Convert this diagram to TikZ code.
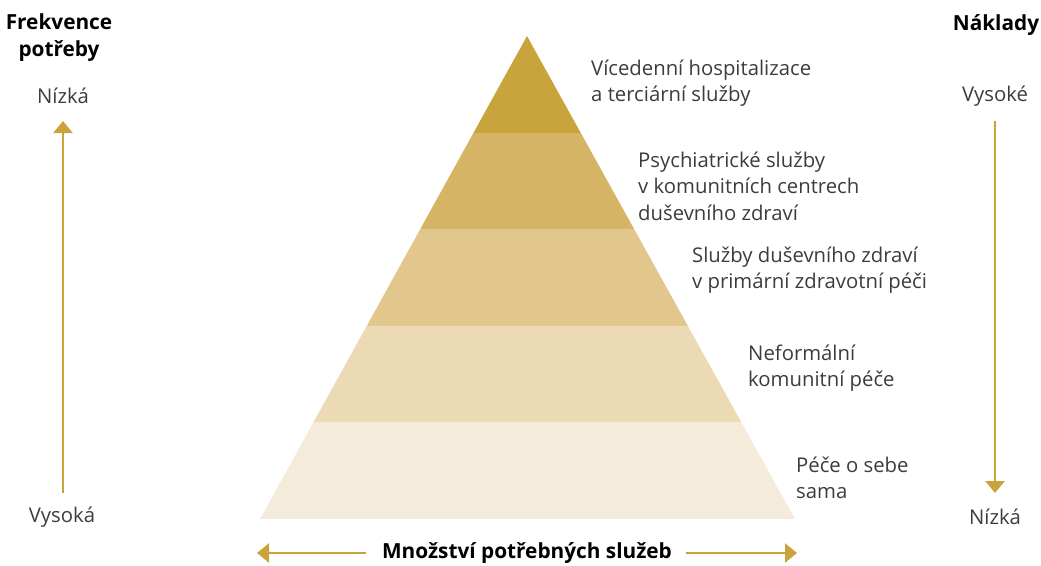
\documentclass[tikz,border=0pt]{standalone}
\usepackage{fontspec}
\setmainfont{Open Sans}
\usetikzlibrary{arrows.meta}
\definecolor{gold}{HTML}{C9A43C}
\definecolor{lay1}{HTML}{C9A43C}
\definecolor{lay2}{HTML}{D6B465}
\definecolor{lay3}{HTML}{E1C78C}
\definecolor{lay4}{HTML}{EBDAB3}
\definecolor{lay5}{HTML}{F4EBDA}
\definecolor{txt}{HTML}{3C3C3C}
\tikzset{
  lbl/.style={anchor=west,align=left,text=txt,font=\fontsize{20.3}{26.5}\selectfont,inner sep=0pt},
  end/.style={text=txt,font=\fontsize{20.3}{26.5}\selectfont,inner sep=0pt},
  head/.style={align=center,font=\bfseries\fontsize{20.8}{27}\selectfont,inner sep=0pt},
  arr/.style={gold,line width=2.8pt,-{Triangle[width=19pt,length=12pt]}}
}
\begin{document}
\begin{tikzpicture}[x=1pt,y=-1pt]
  \useasboundingbox (0,0) rectangle (1041,565);
  % pyramid
  \coordinate (apex) at (527,36);
  \coordinate (bl) at (260,519);
  \coordinate (br) at (795,519);
  \begin{scope}
    \clip (apex)--(bl)--(br)--cycle;
    \foreach \c [count=\i from 0] in {lay1,lay2,lay3,lay4,lay5}
      {\fill[\c] (0,36+96.6*\i) rectangle (1041,36+96.6*\i+96.6);}
  \end{scope}
  % level labels
  \node[lbl] (hosp) at (591,83) {Vícedenní hospitalizace\\a terciární služby};
  \node[lbl] (psych) at (638,186) {Psychiatrické služby\\v komunitních centrech\\duševního zdraví};
  \node[lbl] (prim) at (692,270) {Služby duševního zdraví\\v primární zdravotní péči};
  \node[lbl] (neform) at (748,368) {Neformální\\komunitní péče};
  \node[lbl] (sebe) at (796,478) {Péče o sebe\\sama};
  % left axis
  \node[head] (frekv) at (59,38) {Frekvence\\potřeby};
  \node[end] (nizkaL) at (63,96) {Nízká};
  \node[end] (vysokaL) at (62,517) {Vysoká};
  \coordinate (lb) at (63,493);
  \coordinate (lt) at (63,121);
  \draw[arr] (lb) -- (lt);
  % right axis
  \node[head] (naklady) at (996,25) {Náklady};
  \node[end] (vysokeR) at (995,96) {Vysoké};
  \node[end] (nizkaR) at (995,517) {Nízká};
  \coordinate (rt) at (995,121);
  \coordinate (rb) at (995,493);
  \draw[arr] (rt) -- (rb);
  % bottom axis
  \node[head] (mnozstvi) at (527,553) {Množství potřebných služeb};
  \coordinate (bleft) at (257,553);
  \coordinate (bright) at (797,553);
  \draw[arr] ([xshift=-16pt]mnozstvi.west) -- (bleft);
  \draw[arr] ([xshift=14pt]mnozstvi.east) -- (bright);
\end{tikzpicture}
\end{document}
